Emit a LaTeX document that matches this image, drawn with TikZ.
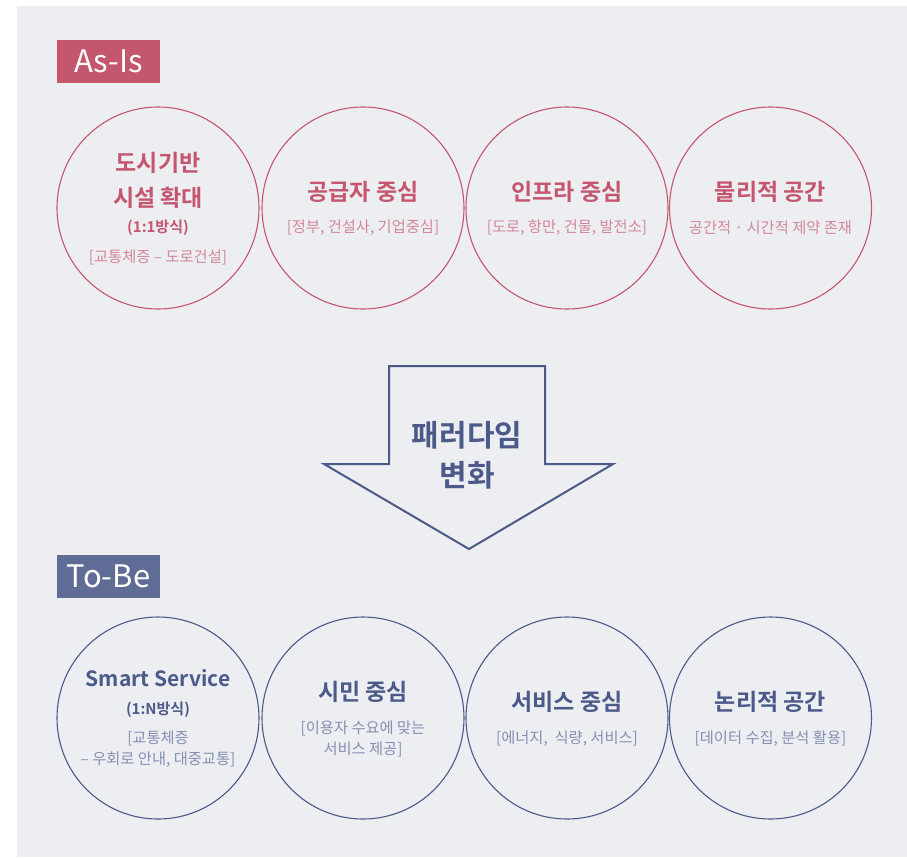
\documentclass[tikz,border=0pt]{standalone}
\usepackage{fontspec}
\setmainfont{Noto Sans CJK KR}[BoldFont={Noto Sans CJK KR Bold}]
\definecolor{bgc}{HTML}{EDEEF2}
\definecolor{pk}{HTML}{C4566E}
\definecolor{pkl}{HTML}{D3879A}
\definecolor{bl}{HTML}{4B5A89}
\definecolor{bll}{HTML}{8490B2}
\definecolor{tagb}{HTML}{5E6C96}
\tikzset{
  ring/.style={circle, draw, line width=1.1pt, minimum size=202pt, inner sep=0pt},
  ttl/.style={font=\bfseries\fontsize{23}{25}\selectfont, align=center, inner sep=0pt},
  ttlen/.style={font=\bfseries\fontsize{21}{25}\selectfont, align=center, inner sep=0pt},
  sml/.style={font=\bfseries\fontsize{15}{17}\selectfont, align=center, inner sep=0pt},
  sub/.style={font=\fontsize{15.3}{21}\selectfont, align=center, inner sep=0pt},
  tag/.style={font=\fontsize{31}{34}\selectfont, text=white, minimum width=103pt, minimum height=43pt, inner sep=0pt}
}
\begin{document}
\begin{tikzpicture}[x=1pt,y=-1pt]
\useasboundingbox (0,0) rectangle (907,857);
\fill[white] (0,0) rectangle (907,857);
\fill[bgc] (17,6) rectangle (907,857);

% tags
\node[tag, fill=pk] (asis) at (108.5,61.5) {As-Is};
\node[tag, fill=tagb] (tobe) at (108.5,576.5) {To-Be};

% top row
\node[ring, draw=pk] (a1) at (158,208) {};
\node[ring, draw=pk] (a2) at (363,208) {};
\node[ring, draw=pk] (a3) at (567,208) {};
\node[ring, draw=pk] (a4) at (770.5,208) {};

\node[ttl, text=pk] (a1t) at (158,163) {도시기반};
\node[ttl, text=pk] (a1u) at (158,198) {시설 확대};
\node[sml, text=pk] (a1v) at (158,228) {(1:1방식)};
\node[sub, text=pkl] (a1s) at (158,257) {[교통체증 – 도로건설]};

\node[ttl, text=pk] (a2t) at (363,192) {공급자 중심};
\node[sub, text=pkl] (a2s) at (363,228) {[정부, 건설사, 기업중심]};

\node[ttl, text=pk] (a3t) at (567,192) {인프라 중심};
\node[sub, text=pkl] (a3s) at (567,228) {[도로, 항만, 건물, 발전소]};

\node[ttl, text=pk] (a4t) at (770.5,192) {물리적 공간};
\node[sub, text=pkl] (a4s) at (770.5,228) {공간적 · 시간적 제약 존재};

% arrow
\draw[bl, line width=2pt, line join=miter]
  (389,366) -- (545,366) -- (545,464) -- (613,464) -- (469,549) -- (324,464) -- (389,464) -- cycle;
\node[font=\bfseries\fontsize{30}{40}\selectfont, text=bl, align=center, inner sep=0pt] (arr) at (467,455) {패러다임\\변화};

% bottom row
\node[ring, draw=bl] (b1) at (158,718) {};
\node[ring, draw=bl] (b2) at (363,718) {};
\node[ring, draw=bl] (b3) at (567,718) {};
\node[ring, draw=bl] (b4) at (770.5,718) {};

\node[ttlen, text=bl] (b1t) at (158,678) {Smart Service};
\node[sml, text=bl] (b1v) at (158,710) {(1:N방식)};
\node[sub, text=bll] (b1s) at (158,749.5) {[교통체증\\– 우회로 안내, 대중교통]};

\node[ttl, text=bl] (b2t) at (363,692) {시민 중심};
\node[sub, text=bll] (b2s) at (363,738.5) {[이용자 수요에 맞는\\서비스 제공]};

\node[ttl, text=bl] (b3t) at (567,702) {서비스 중심};
\node[sub, text=bll] (b3s) at (567,739) {[에너지,\ \ 식량, 서비스]};

\node[ttl, text=bl] (b4t) at (770.5,702) {논리적 공간};
\node[sub, text=bll] (b4s) at (770.5,739) {[데이터 수집, 분석 활용]};
\end{tikzpicture}
\end{document}
